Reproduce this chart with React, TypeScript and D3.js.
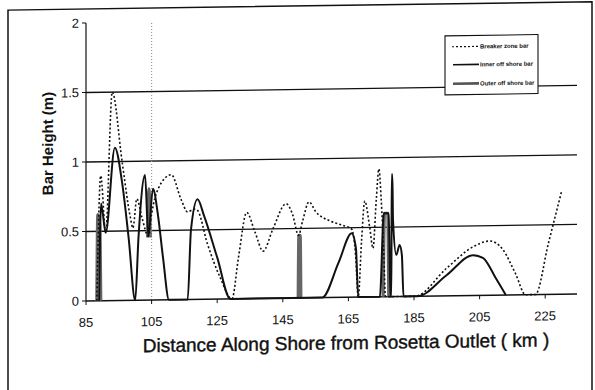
import React from 'react';
import * as d3 from 'd3';

// values: [km, bar height m]
const breakerZone: [number, number][] = [
  [88.3, 0], [89.5, 0.9], [91, 0.49], [93, 1.5], [96, 1.0], [98.5, 0.6], [99.3, 0.52],
  [100.5, 0.73], [102, 0.6], [104, 0.46], [105, 0.62], [107, 0.8], [111, 0.9], [114, 0.72],
  [116, 0.63], [118, 0.65], [119, 0.64], [122, 0.4], [126, 0.15], [129.5, 0], [131.5, 0.3],
  [134, 0.62], [136.5, 0.48], [139, 0.34], [142, 0.5], [146, 0.68], [148, 0.6], [149.8, 0.45],
  [151, 0.55], [153, 0.69], [155, 0.62], [159.5, 0.55], [163, 0.52], [166, 0.49], [167.2, 0.3],
  [168, 0], [169, 0.4], [170, 0.69], [171.5, 0.5], [172.5, 0.35], [173.5, 0.7], [174.3, 0.92],
  [175, 0.7], [175.8, 0.3], [176.3, 0], [185.3, 0], [195, 0.2], [203, 0.35], [208, 0.39],
  [212, 0.33], [216, 0.15], [219, 0], [222, 0], [226, 0.37], [230, 0.74]
];

const innerOffshore: [number, number][] = [
  [89, 0], [89.6, 0.7], [91, 0.49], [93.8, 1.1], [96, 0.85], [98, 0.45], [100, 0],
  [101, 0.45], [103, 0.9], [104, 0.46], [105.4, 0.8], [107, 0.6], [108.5, 0.3], [110.3, 0],
  [116, 0], [117, 0.5], [119, 0.72], [121, 0.6], [125, 0.3], [129, 0],
  [157, 0], [162, 0.25], [166, 0.46], [167.3, 0.35], [168, 0],
  [174.6, 0], [175.8, 0.6], [177.3, 0.6], [177.8, 0], [178.1, 0], [178.2, 0.88], [178.4, 0.88],
  [178.6, 0.55], [179.6, 0.3], [180.6, 0.37], [181.3, 0.3], [181.8, 0],
  [186, 0], [195, 0.15], [203, 0.29], [206, 0.27], [210, 0.12], [213, 0]
];

const outerOffshore: [number, number][][] = [
  [[88.3, 0], [88.6, 0.62], [89.2, 0.55], [89.5, 0]],
  [[103.8, 0.45], [104.2, 0.8], [104.6, 0.45]],
  [[149.7, 0], [149.9, 0.45], [150.3, 0.45], [150.5, 0]],
  [[175.6, 0], [176, 0.6], [177, 0.6], [177.3, 0]]
];

const markerKm = [105];
const xTicks = [85, 105, 125, 145, 165, 185, 205, 225];
const yTicks = [0, 0.5, 1, 1.5, 2];
const gridValues = [0.5, 1, 1.5];
const legendLabels = ['Breaker zone bar', 'Inner off shore bar', 'Outer off shore bar'];

const W = 595;
const H = 390;
const left = 86;
const right = 577;
const top = 23;
const bottom = 301;

const font = 'Liberation Sans, Arial, sans-serif';

export default function App() {
  const x = d3.scaleLinear().domain([85, 235]).range([left, right + 1]);
  const y = d3.scaleLinear().domain([0, 2]).range([bottom, top]);
  const line = d3.line<[number, number]>()
    .x(d => x(d[0]))
    .y(d => y(d[1]))
    .curve(d3.curveMonotoneX);

  // the scan is slightly skewed
  const skew = `translate(${left},${bottom}) skewY(-0.82) translate(${-left},${-bottom})`;

  return (
    <svg width={W} height={H} style={{ position: 'absolute', left: 0, top: 0, background: '#fff' }}>
      <g transform={skew}>
        {/* outer frame */}
        <path d={`M8,${H + 10} L8,9 L592,9 L592,${H + 10}`} fill="none" stroke="#111" strokeWidth={1.5} />

        {gridValues.map(v => (
          <line key={v} x1={left} x2={right} y1={y(v)} y2={y(v)} stroke="#111" strokeWidth={1.3} />
        ))}

        {markerKm.map(k => (
          <line key={k} x1={x(k)} x2={x(k)} y1={y(0)} y2={y(2)} stroke="#999" strokeWidth={1.2} strokeDasharray="1,2" />
        ))}

        {/* axes */}
        <line x1={left} x2={left} y1={y(0)} y2={y(2)} stroke="#111" strokeWidth={1.2} />
        <line x1={left} x2={right} y1={y(0)} y2={y(0)} stroke="#111" strokeWidth={1.5} />
        {yTicks.map(t => (
          <g key={t}>
            <line x1={left - 4} x2={left} y1={y(t)} y2={y(t)} stroke="#111" strokeWidth={1} />
            <text x={79} y={y(t)} dy="0.35em" textAnchor="end" fontFamily={font} fontSize={13} fill="#111">{t}</text>
          </g>
        ))}
        {xTicks.map(t => (
          <g key={t}>
            <line x1={x(t)} x2={x(t)} y1={y(0)} y2={y(0) + 4} stroke="#111" strokeWidth={1} />
            <text x={x(t)} y={327} textAnchor="middle" fontFamily={font} fontSize={13} fill="#111">{t}</text>
          </g>
        ))}

        {/* series */}
        {outerOffshore.map((seg, i) => (
          <path key={i} d={line(seg) || ''} fill="none" stroke="#666" strokeWidth={3.2} />
        ))}
        <path d={line(innerOffshore) || ''} fill="none" stroke="#111" strokeWidth={2} />
        <path d={line(breakerZone) || ''} fill="none" stroke="#111" strokeWidth={1.6} strokeDasharray="2,2.2" />

        {/* legend */}
        <g>
          <rect x={445} y={41} width={93} height={59} fill="#fff" stroke="#111" strokeWidth={1.1} />
          <line x1={452} x2={478} y1={52} y2={52} stroke="#111" strokeWidth={1.2} strokeDasharray="2,2" />
          <line x1={453} x2={479} y1={70} y2={70} stroke="#111" strokeWidth={1.6} />
          <line x1={453} x2={479} y1={89} y2={89} stroke="#555" strokeWidth={2.6} />
          {legendLabels.map((l, i) => (
            <text key={l} x={480} y={[52, 70, 89][i]} dy="0.35em" fontFamily={font} fontSize={6} fontWeight="bold" fill="#111">{l}</text>
          ))}
        </g>

        {/* titles */}
        <text x={346} y={353} textAnchor="middle" fontFamily={font} fontSize={19} fill="#111" stroke="#111" strokeWidth={0.4}>
          Distance Along Shore from Rosetta Outlet ( km )
        </text>
        <text transform="translate(53,143) rotate(-90)" textAnchor="middle" fontFamily={font} fontSize={15} fontWeight="bold" fill="#111">
          Bar Height (m)
        </text>
      </g>
    </svg>
  );
}
